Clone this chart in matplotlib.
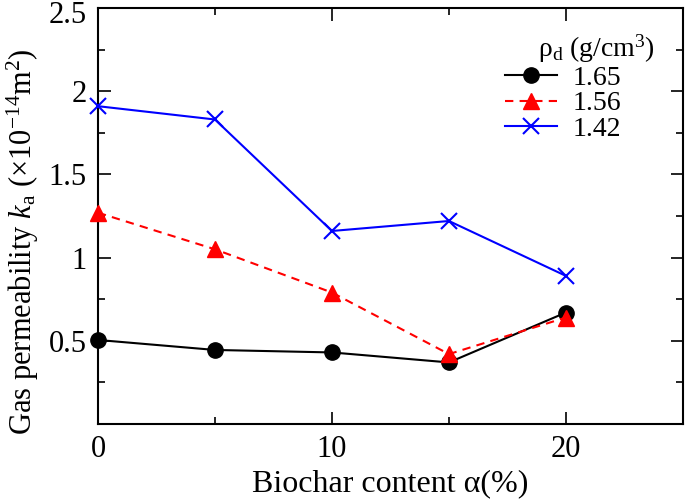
import matplotlib
matplotlib.use("Agg")
import matplotlib.pyplot as plt
import matplotlib.transforms as mtransforms
from matplotlib.ticker import MultipleLocator

plt.rcParams['font.family'] = ['Liberation Serif', 'DejaVu Serif']
plt.rcParams['mathtext.fontset'] = 'custom'
plt.rcParams['mathtext.rm'] = 'Liberation Serif'
plt.rcParams['mathtext.it'] = 'Liberation Serif:italic'

biochar = [0, 5, 10, 15, 20]
k_165 = [0.505, 0.445, 0.43, 0.37, 0.67]
k_156 = [1.27, 1.05, 0.79, 0.42, 0.64]
k_142 = [1.91, 1.83, 1.16, 1.22, 0.89]
labels = ['1.65', '1.56', '1.42']

fig = plt.figure(figsize=(6.85, 5.01), dpi=100)
ax = fig.add_axes([0.143, 0.1537, 0.854, 0.8303])

ax.plot(biochar, k_165, color='black', lw=1.5, marker='o', ms=11, label=labels[0], clip_on=False, zorder=3)
ax.plot(biochar, k_156, color='red', lw=1.5, ls=(0, (4, 3)), marker='^', ms=11, label=labels[1], clip_on=False, zorder=3)
ax.plot(biochar, k_142, color='blue', lw=1.5, marker='x', ms=11, mew=1.5, label=labels[2], clip_on=False, zorder=3)

ax.set_xlim(0, 25)
ax.set_ylim(0, 2.5)
ax.xaxis.set_major_locator(MultipleLocator(10))
ax.xaxis.set_minor_locator(MultipleLocator(5))
ax.yaxis.set_minor_locator(MultipleLocator(0.25))
ax.set_yticks([0.5, 1, 1.5, 2, 2.5])
ax.set_yticklabels(['0.5', '1', '1.5', '2', '2.5'])
ax.tick_params(which='both', direction='in', top=True, right=True, labelsize=22, width=1.2)
ax.tick_params(which='major', length=9, pad=8)
ax.tick_params(which='minor', length=5)
for s in ax.spines.values():
    s.set_linewidth(1.5)

# shift the top y tick label slightly down so it is not clipped
top_lbl = ax.get_yticklabels()[-1]
top_lbl.set_transform(top_lbl.get_transform() + mtransforms.ScaledTranslation(0, -3 / 72, fig.dpi_scale_trans))

ax.set_xlabel('Biochar content α(%)', fontsize=23, labelpad=4)
ax.set_ylabel(r'Gas permeability $k_{\mathrm{a}}$ (×10$^{-14}$m$^{2}$)', fontsize=22)
ax.yaxis.set_label_coords(-0.097, 0.4375)

ax.legend(frameon=False, fontsize=20, loc='upper left', bbox_to_anchor=(0.696, 0.862),
          handlelength=1.87, labelspacing=0.0, handletextpad=0.55, borderaxespad=0.0, borderpad=0.0)
ax.text(0.952, 0.902, r'ρ$_{\mathrm{d}}$ (g/cm$^{3}$)', transform=ax.transAxes, fontsize=20,
        ha='right', va='center')

fig.savefig('out.png', dpi=100)
